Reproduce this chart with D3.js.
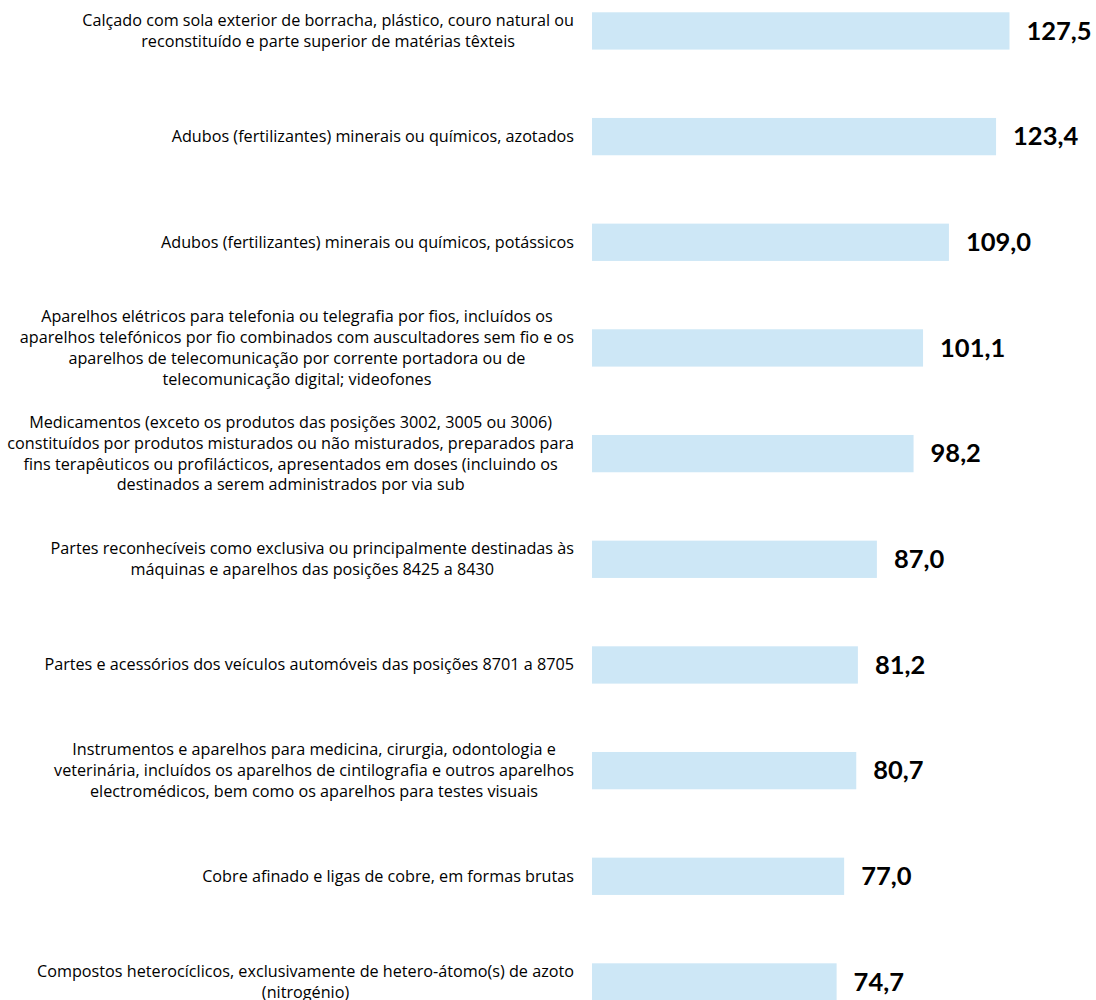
<!DOCTYPE html>
<html>
<head>
<meta charset="utf-8">
<script src="https://cdn.jsdelivr.net/npm/d3@7"></script>
<style>
  html, body { margin: 0; padding: 0; background: #fff; }
  svg { display: block; }
</style>
</head>
<body>
<svg id="chart" width="1096" height="1000"></svg>
<script>
// product descriptions, already broken into lines as in the source chart
const categories = [
  ["Calçado com sola exterior de borracha, plástico, couro natural ou",
   "reconstituído e parte superior de matérias têxteis"],
  ["Adubos (fertilizantes) minerais ou químicos, azotados"],
  ["Adubos (fertilizantes) minerais ou químicos, potássicos"],
  ["Aparelhos elétricos para telefonia ou telegrafia por fios, incluídos os",
   "aparelhos telefónicos por fio combinados com auscultadores sem fio e os",
   "aparelhos de telecomunicação por corrente portadora ou de",
   "telecomunicação digital; videofones"],
  ["Medicamentos (exceto os produtos das posições 3002, 3005 ou 3006)",
   "constituídos por produtos misturados ou não misturados, preparados para",
   "fins terapêuticos ou profilácticos, apresentados em doses (incluindo os",
   "destinados a serem administrados por via sub"],
  ["Partes reconhecíveis como exclusiva ou principalmente destinadas às",
   "máquinas e aparelhos das posições 8425 a 8430"],
  ["Partes e acessórios dos veículos automóveis das posições 8701 a 8705"],
  ["Instrumentos e aparelhos para medicina, cirurgia, odontologia e",
   "veterinária, incluídos os aparelhos de cintilografia e outros aparelhos",
   "electromédicos, bem como os aparelhos para testes visuais"],
  ["Cobre afinado e ligas de cobre, em formas brutas"],
  ["Compostos heterocíclicos, exclusivamente de hetero-átomo(s) de azoto",
   "(nitrogénio)"]
];

const values = [127.5, 123.4, 109.0, 101.1, 98.2, 87.0, 81.2, 80.7, 77.0, 74.7];

const fmt = v => v.toFixed(1).replace('.', ',');

const svg = d3.select('#chart');

const barLeft = 592, barRight = 1009.5;
const labelRight = 574;
const lineHeight = 20.8;

const x = d3.scaleLinear()
  .domain([0, d3.max(values)])
  .range([barLeft, barRight]);

const y = d3.scaleBand()
  .domain(d3.range(values.length))
  .range([-21.9, 1034.8])
  .paddingInner(0.647)
  .paddingOuter(0.3235);

// bars
svg.append('g')
  .selectAll('rect')
  .data(values)
  .join('rect')
    .attr('x', x(0))
    .attr('y', (d, i) => y(i))
    .attr('width', d => x(d) - x(0))
    .attr('height', y.bandwidth())
    .attr('fill', '#cde7f6');

// value labels
svg.append('g')
  .selectAll('text')
  .data(values)
  .join('text')
    .attr('x', d => x(d) + 17)
    .attr('y', (d, i) => y(i) + y.bandwidth() / 2 + 8.7)
    .attr('font-family', 'Lato, sans-serif')
    .attr('font-weight', 700)
    .attr('font-size', '25.5px')
    .attr('fill', '#000')
    .text(fmt);

// category labels: block right-aligned, lines centred within the block
const labels = svg.append('g')
  .attr('font-family', '"Open Sans", sans-serif')
  .attr('font-size', '16.2px')
  .attr('fill', '#000');

categories.forEach((lines, i) => {
  const g = labels.append('g');
  const cy = y(i) + y.bandwidth() / 2;
  const texts = g.selectAll('text')
    .data(lines)
    .join('text')
      .attr('y', (d, j) => cy + (j - (lines.length - 1) / 2) * lineHeight)
      .attr('dy', '0.34em')
      .attr('text-anchor', 'middle')
      .text(d => d);
  const w = d3.max(texts.nodes(), n => n.getComputedTextLength());
  texts.attr('x', labelRight - w / 2);
});
</script>
</body>
</html>
